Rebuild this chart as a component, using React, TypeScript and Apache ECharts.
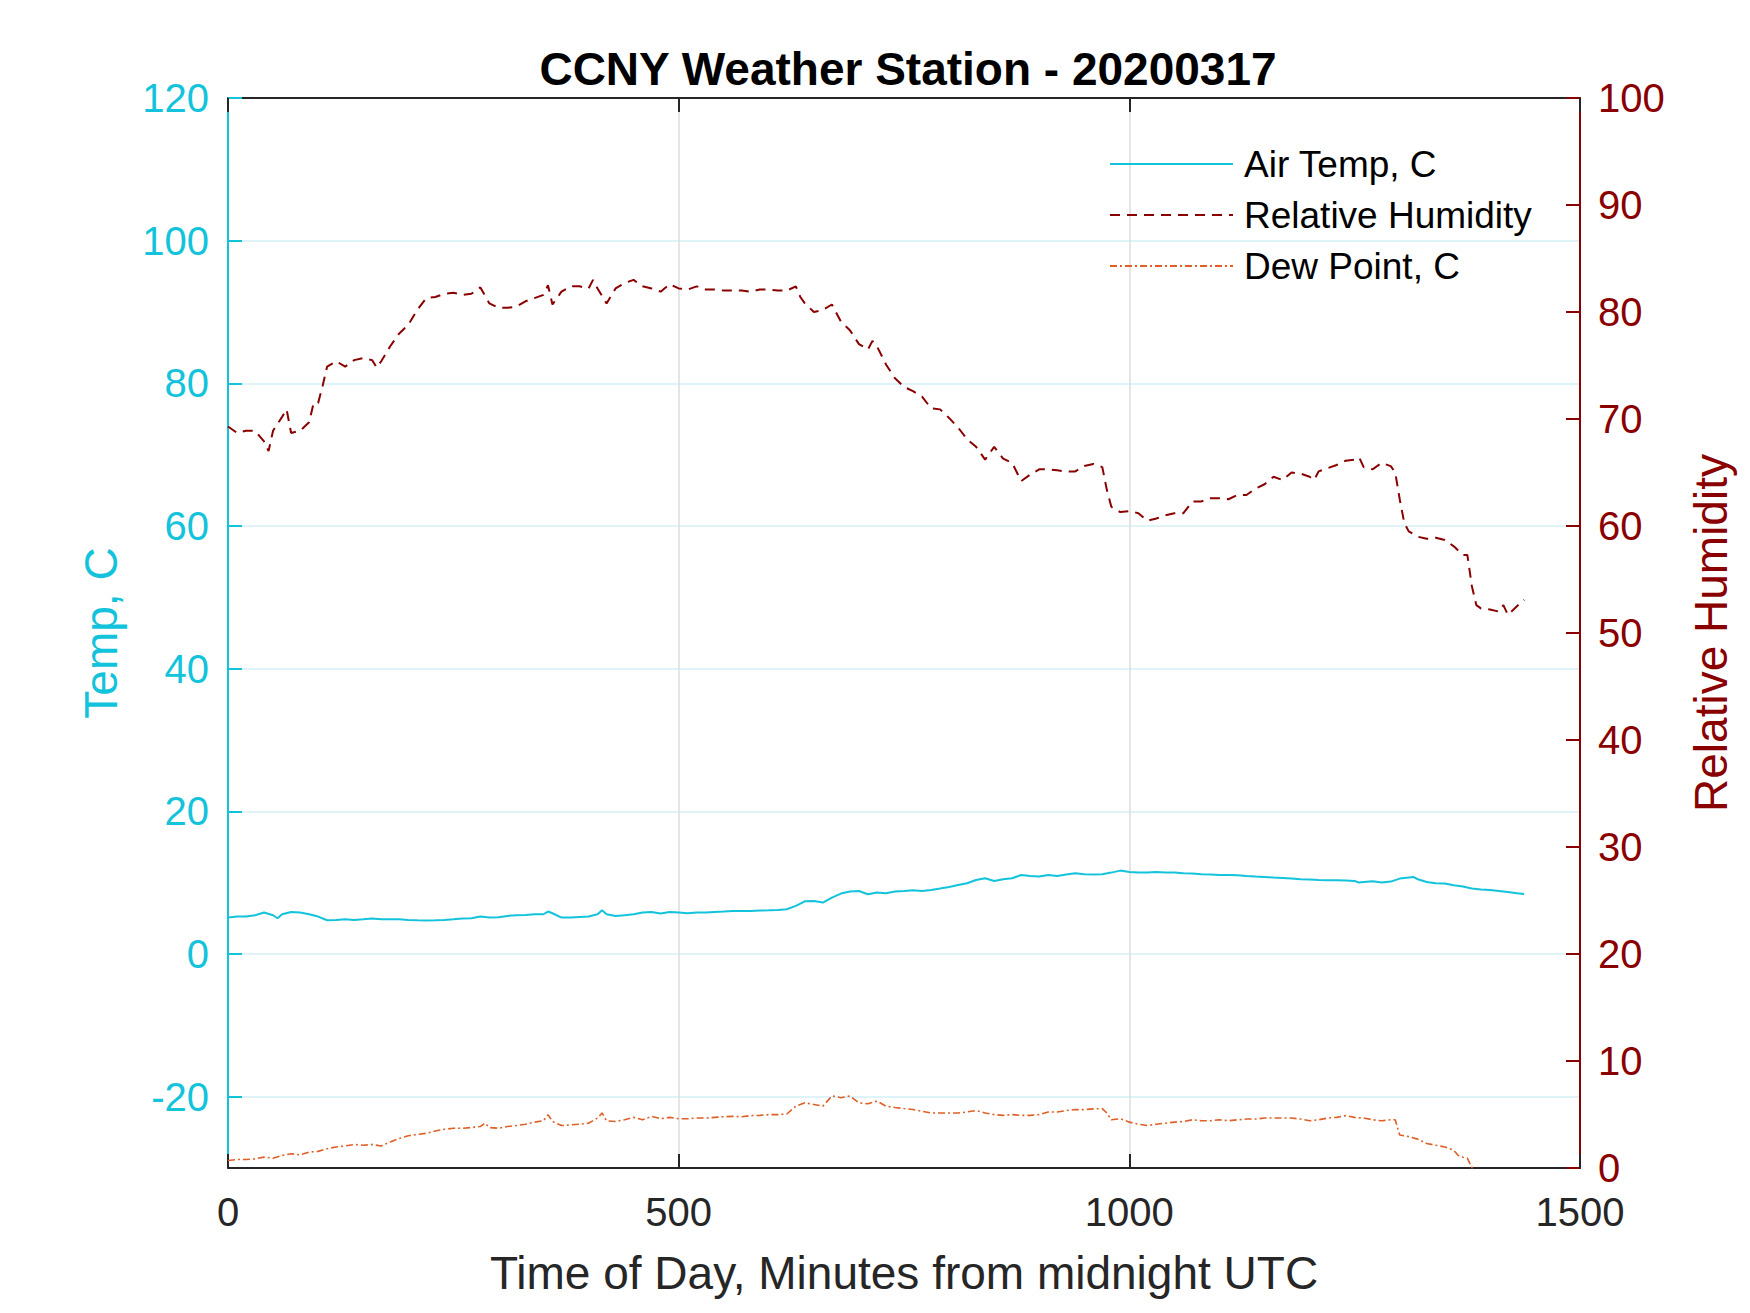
import React, { useEffect, useRef } from "react";
import * as echarts from "echarts";

// ---- data ----
const tempMinutes = [0,10,20,30,40,50,55,60,70,80,90,100,110,120,130,140,150,160,170,180,190,200,210,220,230,240,250,260,270,280,290,300,310,320,330,340,350,355,360,370,380,390,400,410,415,420,430,440,450,460,470,480,490,500,510,520,530,540,550,560,570,580,590,600,610,620,630,640,650,660,670,680,690,700,710,720,730,740,750,760,770,780,790,800,810,820,830,840,850,860,870,880,890,900,910,920,930,940,950,960,970,980,990,1000,1010,1020,1030,1040,1050,1060,1070,1080,1090,1100,1110,1120,1130,1140,1150,1160,1170,1180,1190,1200,1210,1220,1230,1240,1250,1255,1260,1270,1280,1290,1300,1310,1315,1320,1330,1340,1350,1360,1370,1380,1390,1400,1410,1420,1430,1438];
const airTemp = [5.11,5.25,5.25,5.43,5.81,5.43,5.01,5.57,5.9,5.81,5.57,5.25,4.73,4.78,4.87,4.78,4.87,4.97,4.87,4.87,4.87,4.78,4.73,4.69,4.73,4.78,4.87,4.97,5.01,5.25,5.11,5.15,5.34,5.43,5.48,5.57,5.57,5.95,5.71,5.11,5.11,5.2,5.25,5.57,6.13,5.57,5.34,5.43,5.57,5.81,5.9,5.67,5.9,5.81,5.71,5.81,5.81,5.9,5.95,6.04,6.04,6.04,6.09,6.13,6.18,6.27,6.74,7.39,7.44,7.21,7.91,8.47,8.75,8.84,8.38,8.61,8.52,8.75,8.84,8.94,8.84,8.98,9.17,9.4,9.68,9.92,10.38,10.62,10.24,10.48,10.62,11.08,10.94,10.85,11.08,10.94,11.13,11.32,11.18,11.13,11.18,11.41,11.69,11.5,11.41,11.41,11.5,11.41,11.41,11.32,11.27,11.18,11.13,11.08,11.08,11.04,10.94,10.85,10.8,10.71,10.66,10.57,10.48,10.43,10.38,10.34,10.34,10.29,10.24,10.01,10.1,10.2,10.01,10.15,10.57,10.71,10.8,10.48,10.1,9.92,9.87,9.64,9.45,9.17,9.03,8.98,8.84,8.7,8.52,8.42];

const rhMinutes = [0,10,20,30,40,45,50,60,65,70,80,90,95,100,105,110,120,130,140,150,160,165,170,180,190,200,210,220,230,240,250,260,270,280,290,300,310,320,330,340,350,355,360,370,380,390,400,405,410,420,430,440,450,460,470,480,490,500,510,520,530,540,550,560,570,580,590,600,610,620,630,635,640,650,660,670,680,690,700,710,715,720,730,740,750,760,770,780,790,800,810,820,830,840,850,860,870,880,890,900,910,920,930,940,950,960,970,975,980,990,1000,1010,1020,1030,1040,1050,1060,1070,1080,1090,1100,1110,1120,1130,1140,1150,1160,1170,1180,1190,1200,1205,1210,1220,1230,1240,1250,1255,1260,1270,1280,1290,1295,1300,1305,1310,1320,1330,1340,1350,1360,1370,1375,1380,1385,1390,1400,1410,1415,1420,1430,1438];
const relHumidity = [69.3,68.7,68.9,68.9,67.9,67.0,68.9,70.2,70.9,68.7,68.9,69.7,71.5,71.5,73.1,74.9,75.4,74.9,75.5,75.7,75.5,74.8,75.4,76.8,78.0,78.8,80.2,81.3,81.4,81.7,81.8,81.6,81.7,82.3,80.8,80.4,80.4,80.5,81.0,81.3,81.6,82.5,80.7,81.9,82.4,82.4,82.2,83.0,82.2,80.8,82.2,82.7,83.0,82.4,82.2,81.9,82.6,82.2,82.1,82.4,82.1,82.1,82.0,82.0,82.0,81.9,82.1,82.1,82.0,82.0,82.4,81.4,80.8,80.0,80.2,80.7,79.1,78.3,77.0,76.5,77.3,76.8,75.1,73.8,73.0,72.6,72.1,71.0,70.9,70.1,69.2,68.1,67.4,66.2,67.4,66.3,65.9,64.2,64.8,65.3,65.3,65.2,65.1,65.1,65.6,65.8,65.5,63.4,61.8,61.3,61.4,61.2,60.5,60.7,61.0,61.2,61.2,62.3,62.3,62.6,62.6,62.5,62.9,62.9,63.5,63.9,64.6,64.3,65.0,64.9,64.6,64.3,65.1,65.4,65.7,66.1,66.2,66.4,65.5,65.3,65.9,65.6,65.0,62.5,60.3,59.5,59.0,58.8,58.9,58.7,58.1,57.3,57.3,54.4,52.6,52.3,52.2,52.0,52.6,51.7,52.5,53.1];

const dewMinutes = [0,10,20,30,40,50,60,70,80,90,100,110,120,130,140,150,160,170,180,190,200,210,220,230,240,250,260,270,280,285,290,300,310,320,330,340,350,355,360,370,380,390,400,410,415,420,430,440,450,460,470,480,490,500,510,520,530,540,550,560,570,580,590,600,610,620,630,640,650,660,670,680,690,700,710,720,730,740,750,760,770,780,790,800,810,820,830,840,850,860,870,880,890,900,910,920,930,940,950,960,970,975,980,990,1000,1010,1020,1030,1040,1050,1060,1070,1080,1090,1100,1110,1120,1130,1140,1150,1160,1170,1180,1190,1200,1210,1220,1230,1240,1250,1260,1270,1280,1290,1295,1300,1310,1320,1330,1340,1350,1360,1365,1370,1375,1380,1385];
const dewPoint = [-28.95,-28.81,-28.81,-28.72,-28.48,-28.62,-28.24,-28.0,-28.15,-27.76,-27.67,-27.29,-27.05,-26.91,-26.71,-26.81,-26.71,-26.91,-26.34,-25.86,-25.48,-25.29,-25.14,-24.81,-24.57,-24.43,-24.43,-24.33,-24.19,-23.72,-24.33,-24.43,-24.19,-24.05,-23.86,-23.57,-23.38,-22.52,-23.48,-24.05,-23.95,-23.86,-23.72,-23.0,-22.29,-23.38,-23.48,-23.24,-22.9,-23.24,-22.76,-23.1,-22.9,-23.1,-23.1,-23.0,-23.0,-22.9,-22.81,-22.76,-22.81,-22.66,-22.62,-22.52,-22.52,-22.43,-21.33,-20.86,-21.09,-21.33,-19.9,-20.14,-19.9,-20.86,-21.0,-20.62,-21.33,-21.52,-21.67,-21.81,-22.05,-22.29,-22.29,-22.29,-22.29,-22.14,-21.95,-22.29,-22.52,-22.62,-22.52,-22.62,-22.62,-22.52,-22.14,-22.14,-21.95,-21.81,-21.81,-21.71,-21.67,-22.29,-23.24,-23.1,-23.57,-23.86,-24.05,-23.86,-23.72,-23.57,-23.48,-23.24,-23.38,-23.38,-23.24,-23.38,-23.24,-23.14,-23.14,-23.0,-23.0,-23.0,-23.0,-23.14,-23.38,-23.24,-23.0,-22.9,-22.66,-22.9,-23.0,-23.24,-23.38,-23.24,-23.24,-25.38,-25.6,-25.95,-26.57,-26.81,-27.05,-27.52,-28.24,-28.48,-28.62,-29.91,-31.0];

const tempTicks = [-20, 0, 20, 40, 60, 80, 100, 120];
const seriesNames = ["Air Temp, C", "Relative Humidity", "Dew Point, C"];
const titleText = "CCNY Weather Station - 20200317";
const xTitle = "Time of Day, Minutes from midnight UTC";
const leftTitle = "Temp, C";
const rightTitle = "Relative Humidity";

const CYAN = "#12C3DB";
const DARKRED = "#8A0000";
const ORANGE = "#DF5F26";
const INK = "#262626";
const FONT = "'Liberation Sans', Arial, Helvetica, sans-serif";

const pairs = (xs: number[], ys: number[]) => xs.map((x, i) => [x, ys[i]]);

export default function App() {
  const ref = useRef<HTMLDivElement>(null);
  useEffect(() => {
    if (!ref.current) return;
    const chart = echarts.init(ref.current, null, { renderer: "svg" });
    chart.setOption({
      animation: false,
      backgroundColor: "#ffffff",
      textStyle: { fontFamily: FONT },
      title: {
        text: titleText,
        left: 895,
        textAlign: "center",
        top: 33,
        textStyle: { fontFamily: FONT, fontSize: 46, fontWeight: "bold", color: "#000000" },
      },
      legend: {
        orient: "vertical",
        left: 1096,
        top: 131,
        itemWidth: 123,
        itemHeight: 14,
        itemGap: 11,
        data: seriesNames,
        itemStyle: { opacity: 0 },
        textStyle: { fontFamily: FONT, fontSize: 37, color: "#000000", lineHeight: 40, padding: [0, 0, 0, 6] },
      },
      grid: { left: 220, top: 90, width: 1366, height: 1070, containLabel: false },
      xAxis: [
        {
          type: "value",
          min: 0,
          max: 1500,
          interval: 500,
          name: xTitle,
          nameLocation: "middle",
          nameGap: 82,
          nameTextStyle: { fontFamily: FONT, fontSize: 46, color: INK },
          axisLine: { show: true, onZero: false, lineStyle: { color: INK, width: 2 } },
          axisTick: { show: true, inside: true, length: 14, lineStyle: { color: INK, width: 2 } },
          axisLabel: { fontFamily: FONT, fontSize: 40, color: INK, margin: 24, formatter: (v: number) => String(v) },
          splitLine: { show: true, lineStyle: { color: "#DCDCDC", width: 1.5 } },
        },
        {
          type: "value",
          position: "top",
          min: 0,
          max: 1500,
          interval: 500,
          axisLine: { show: true, onZero: false, lineStyle: { color: INK, width: 2 } },
          axisTick: { show: true, inside: true, length: 14, lineStyle: { color: INK, width: 2 } },
          axisLabel: { show: false },
          splitLine: { show: false },
        },
      ],
      yAxis: [
        {
          type: "value",
          position: "left",
          min: -30,
          max: 120,
          name: leftTitle,
          nameLocation: "middle",
          nameRotate: 90,
          nameGap: 104,
          nameTextStyle: { fontFamily: FONT, fontSize: 46, color: CYAN },
          axisLine: { show: true, onZero: false, lineStyle: { color: CYAN, width: 2 } },
          axisTick: { show: true, inside: true, length: 14, customValues: tempTicks, lineStyle: { color: CYAN, width: 2 } },
          axisLabel: { fontFamily: FONT, fontSize: 40, color: CYAN, margin: 19, customValues: tempTicks },
          splitLine: { show: true, lineStyle: { color: "#D3F1F7", width: 1.5 } },
        },
        {
          type: "value",
          position: "right",
          min: 0,
          max: 100,
          interval: 10,
          name: rightTitle,
          nameLocation: "middle",
          nameRotate: 90,
          nameGap: 108,
          nameTextStyle: { fontFamily: FONT, fontSize: 46, color: DARKRED },
          axisLine: { show: true, onZero: false, lineStyle: { color: DARKRED, width: 2 } },
          axisTick: { show: true, inside: true, length: 14, lineStyle: { color: DARKRED, width: 2 } },
          axisLabel: { fontFamily: FONT, fontSize: 40, color: DARKRED, margin: 18 },
          splitLine: { show: false },
        },
      ],
      series: [
        {
          name: seriesNames[0],
          type: "line",
          xAxisIndex: 0,
          yAxisIndex: 0,
          data: pairs(tempMinutes, airTemp),
          symbol: "none",
          lineStyle: { color: CYAN, width: 2, type: "solid" },
          itemStyle: { color: CYAN },
        },
        {
          name: seriesNames[1],
          type: "line",
          xAxisIndex: 0,
          yAxisIndex: 1,
          data: pairs(rhMinutes, relHumidity),
          symbol: "none",
          lineStyle: { color: DARKRED, width: 2, type: [10, 7] },
          itemStyle: { color: DARKRED },
        },
        {
          name: seriesNames[2],
          type: "line",
          xAxisIndex: 0,
          yAxisIndex: 0,
          data: pairs(dewMinutes, dewPoint),
          symbol: "none",
          clip: true,
          lineStyle: { color: ORANGE, width: 1.6, type: [7, 3, 2, 3] },
          itemStyle: { color: ORANGE },
        },
      ],
    });
    return () => chart.dispose();
  }, []);
  return <div ref={ref} style={{ width: 1734, height: 1297 }} />;
}
